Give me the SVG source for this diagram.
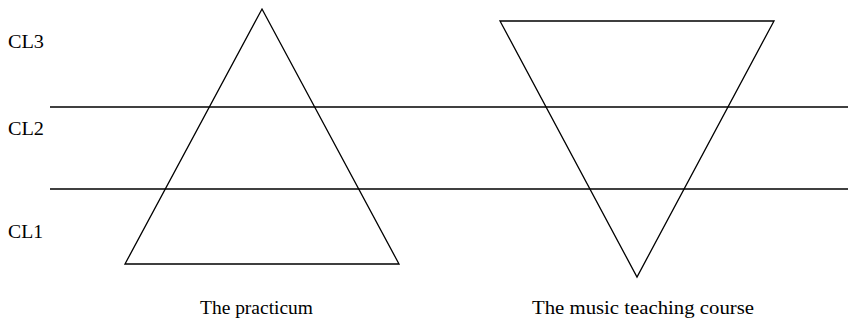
<svg xmlns="http://www.w3.org/2000/svg" width="848" height="322" viewBox="0 0 848 322">
<style>
.s{fill:none;stroke:#000;stroke-width:1.3}
text{font-family:"Liberation Serif","Times New Roman",serif;font-size:19px;fill:#000}
</style>
<rect width="848" height="322" fill="#fff"/>
<g id="levels">
<line class="s" x1="50" y1="107" x2="848" y2="107"/>
<line class="s" x1="50" y1="189" x2="848" y2="189"/>
</g>
<g id="labels">
<text x="8" y="48" textLength="36" lengthAdjust="spacingAndGlyphs">CL3</text>
<text x="8" y="135" textLength="36" lengthAdjust="spacingAndGlyphs">CL2</text>
<text x="8" y="238" textLength="35" lengthAdjust="spacingAndGlyphs">CL1</text>
</g>
<g id="practicum">
<polygon class="s" points="262,9 399,264 125,264"/>
<text x="200" y="314" textLength="113" lengthAdjust="spacingAndGlyphs">The practicum</text>
</g>
<g id="course">
<polygon class="s" points="500,21 774,21 637,277"/>
<text x="532" y="314" textLength="222" lengthAdjust="spacingAndGlyphs">The music teaching course</text>
</g>
</svg>
